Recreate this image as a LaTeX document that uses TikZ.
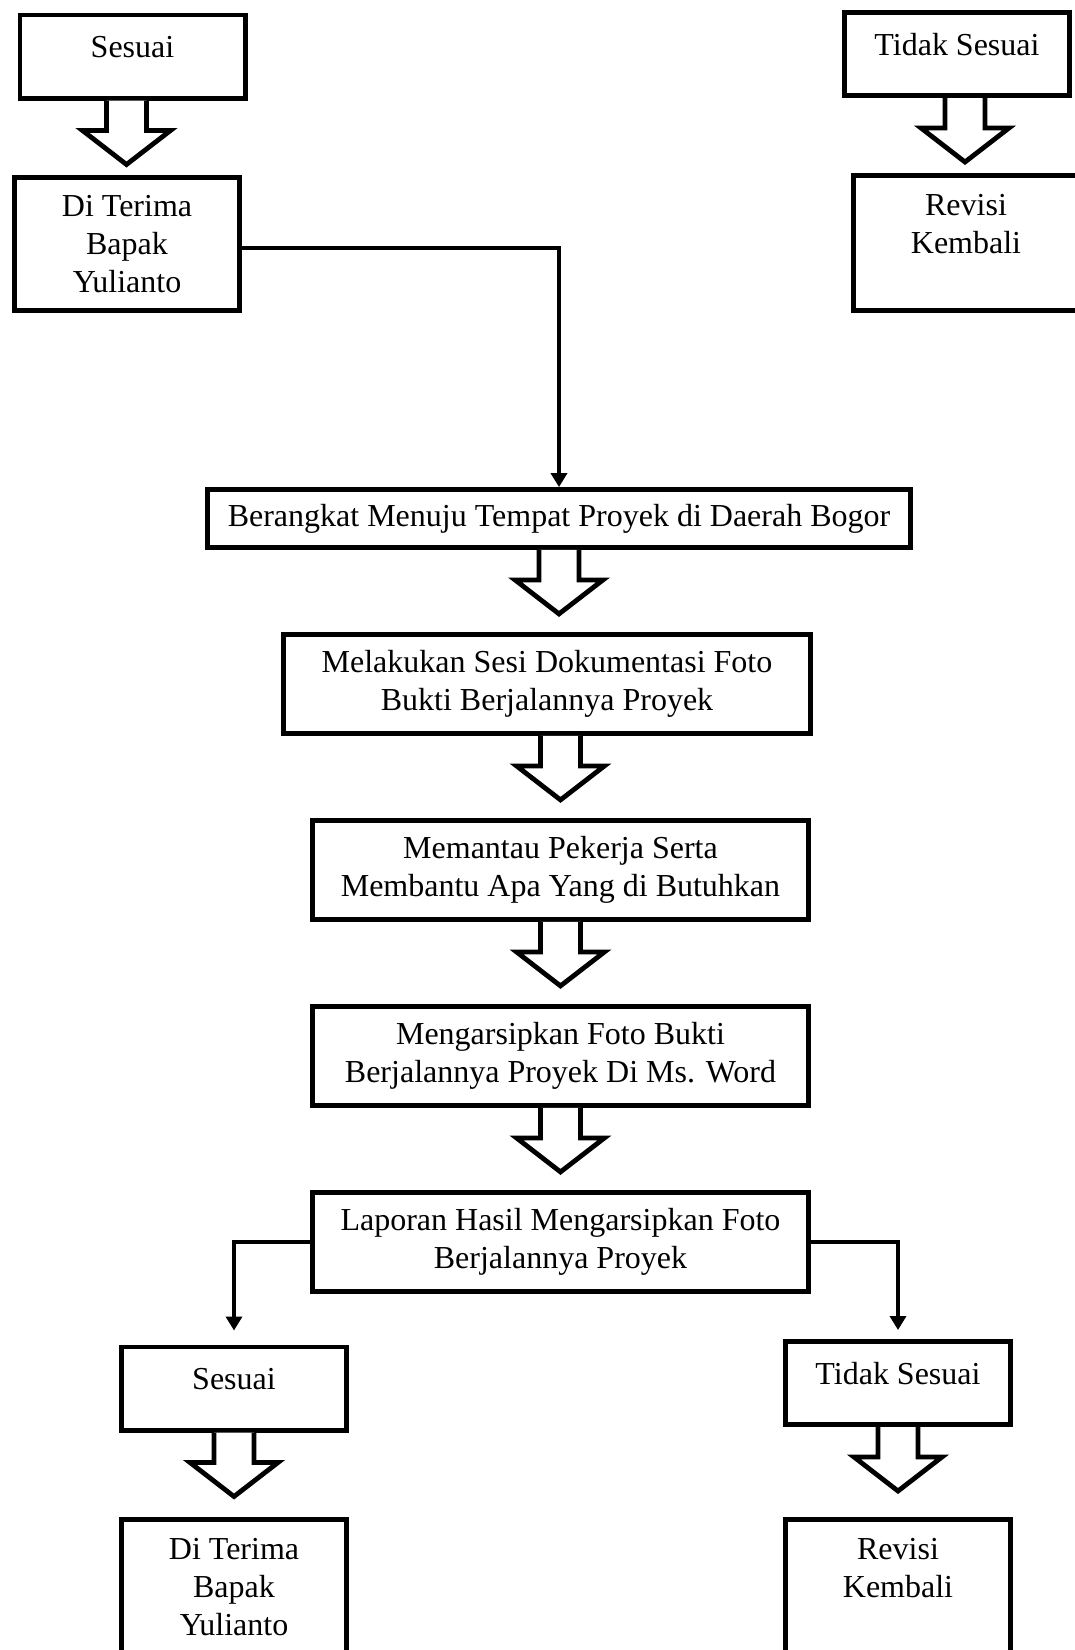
\documentclass[tikz,border=0pt]{standalone}
\usepackage{fontspec}
\setmainfont{Liberation Serif}
\usetikzlibrary{arrows.meta,positioning}

\newcommand{\fatarrow}[1]{\draw[fat] (#1) ++(-20,0) -- ++(0,30) -- ++(-24,0) -- ++(44,34) -- ++(44,-34) -- ++(-24,0) -- ++(0,-30);}

\begin{document}
\begin{tikzpicture}[x=0.5pt, y=-0.5pt, node distance=41pt,
  box/.style={draw,line width=2.4pt,align=center,inner sep=3pt,font=\fontsize{16}{19}\selectfont},
  small/.style={box,minimum width=112.6pt,minimum height=41.6pt,text depth=10pt},
  tall/.style={box,minimum width=112.6pt,minimum height=67.6pt},
  wide/.style={box,minimum width=248pt,minimum height=49.6pt},
  fat/.style={draw,line width=2.4pt,fill=white,line join=miter},
  link/.style={draw,line width=2.2pt,-{Triangle[width=8pt,length=7pt]}}]
\path[use as bounding box,clip] (0,0) rectangle (1075,1650);
\node[small] (ses1) at (132.5,56.5) {Sesuai};
\node[tall,minimum height=66.6pt] (ter1) at (127,244) {Di Terima\\Bapak\\Yulianto};
\node[small] (tdk1) at (957,54) {Tidak Sesuai};
\node[tall] (rev1) at (966,243) {Revisi\\Kembali\\\mbox{}};
\node[box,minimum width=351.6pt,minimum height=29pt] (brk) at (559,518.5) {Berangkat Menuju Tempat Proyek di Daerah Bogor};
\node[wide,minimum width=263.6pt,below=of brk,xshift=-6pt] (dok) {Melakukan Sesi Dokumentasi Foto\\Bukti Berjalannya Proyek};
\node[wide,below=of dok,xshift=6.75pt] (pantau) {Memantau Pekerja Serta\\Membantu Apa Yang di Butuhkan};
\node[wide,below=of pantau] (arsip) {Mengarsipkan Foto Bukti\\Berjalannya Proyek Di Ms. Word};
\node[wide,below=of arsip] (lapor) {Laporan Hasil Mengarsipkan Foto\\Berjalannya Proyek};
\node[small] (ses2) at (234,1388.5) {Sesuai};
\node[tall] (ter2) at (234,1587) {Di Terima\\Bapak\\Yulianto};
\node[small] (tdk2) at (898,1383) {Tidak Sesuai};
\node[tall] (rev2) at (898,1587) {Revisi\\Kembali\\\mbox{}};
\foreach \n in {brk,pantau,arsip,ses2,tdk2} \fatarrow{\n.south};
\fatarrow{[xshift=-3pt]ses1.south}
\fatarrow{[xshift=4pt]tdk1.south}
\fatarrow{dok.south -| pantau.north}
\draw[link] ([yshift=-2pt]ter1.east) -| (brk.north);
\draw[link,shorten >=7pt] (lapor.west) -| (ses2.north);
\draw[link,shorten >=4.5pt] (lapor.east) -| (tdk2.north);
\end{tikzpicture}
\end{document}
